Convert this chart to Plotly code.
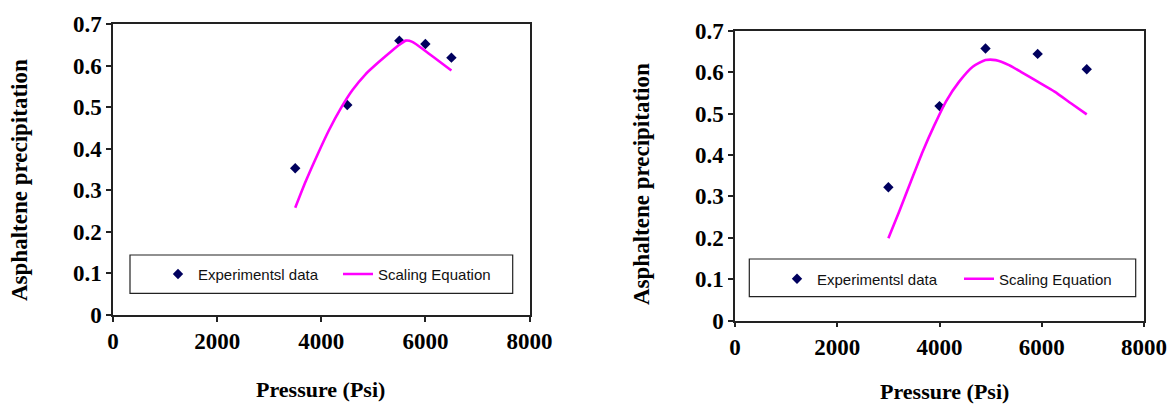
import plotly.graph_objects as go

# ---- data: left panel ----
exp1_p = [3500, 4500, 5500, 6000, 6500]
exp1_a = [0.353, 0.505, 0.660, 0.652, 0.619]
fit1_p = [3500, 3700, 3925, 4150, 4375, 4600, 4850, 5110, 5370, 5500, 5625, 5750, 6000, 6500]
fit1_a = [0.258, 0.321, 0.385, 0.445, 0.497, 0.541, 0.579, 0.609, 0.637, 0.650, 0.660, 0.657, 0.635, 0.588]

# ---- data: right panel ----
exp2_p = [3000, 4000, 4900, 5920, 6880]
exp2_a = [0.322, 0.518, 0.657, 0.644, 0.607]
fit2_p = [3000, 3210, 3440, 3670, 3900, 4125, 4385, 4650, 4900, 5100, 5360, 5600, 5920, 6250, 6570, 6880]
fit2_a = [0.199, 0.263, 0.336, 0.408, 0.472, 0.529, 0.577, 0.613, 0.629, 0.629, 0.617, 0.600, 0.577, 0.553, 0.525, 0.498]

x_ticks = [0, 2000, 4000, 6000, 8000]
y_ticks = [0, 0.1, 0.2, 0.3, 0.4, 0.5, 0.6, 0.7]
y_ticktext = ["0", "0.1", "0.2", "0.3", "0.4", "0.5", "0.6", "0.7"]
x_title = "Pressure (Psi)"
y_title = "Asphaltene precipitation"

W, H = 1175, 406
def px(x): return x / W
def py(y): return 1 - y / H

MARKER_COLOR = "#00005e"
LINE_COLOR = "#ff00ff"
LEG_FONT = dict(family="Liberation Sans, Arial", size=15, color="#111")

fig = go.Figure()
fig.add_trace(go.Scatter(x=exp1_p, y=exp1_a, mode="markers", name="Experimentsl data",
                         marker=dict(symbol="diamond", size=8, color=MARKER_COLOR),
                         xaxis="x", yaxis="y", legend="legend"))
fig.add_trace(go.Scatter(x=fit1_p, y=fit1_a, mode="lines", name="Scaling Equation",
                         line=dict(color=LINE_COLOR, width=2.6, shape="spline", smoothing=0.6),
                         xaxis="x", yaxis="y", legend="legend2"))
fig.add_trace(go.Scatter(x=exp2_p, y=exp2_a, mode="markers", name="Experimentsl data",
                         marker=dict(symbol="diamond", size=8, color=MARKER_COLOR),
                         xaxis="x2", yaxis="y2", legend="legend3"))
fig.add_trace(go.Scatter(x=fit2_p, y=fit2_a, mode="lines", name="Scaling Equation",
                         line=dict(color=LINE_COLOR, width=2.6, shape="spline", smoothing=0.6),
                         xaxis="x2", yaxis="y2", legend="legend4"))

tick_font = dict(family="Liberation Serif, Times New Roman", size=23, color="black", weight="bold")

def xax(domain, anchor):
    return dict(domain=domain, anchor=anchor, range=[0, 8000], tickvals=x_ticks,
                showgrid=False, zeroline=False, showline=True, linecolor="#222", linewidth=1.5,
                mirror=True, ticks="outside", ticklen=5, tickwidth=1.5, tickcolor="#222",
                tickfont=tick_font, automargin=False)

def yax(domain, anchor):
    return dict(domain=domain, anchor=anchor, range=[0, 0.7], tickvals=y_ticks,
                ticktext=y_ticktext,
                showgrid=False, zeroline=False, showline=True, linecolor="#222", linewidth=1.5,
                mirror=True, ticks="outside", ticklen=5, tickwidth=1.5, tickcolor="#222",
                tickfont=tick_font, automargin=False)

def leg(xp, yp):
    return dict(x=px(xp), y=py(yp), xanchor="left", yanchor="middle", bgcolor="rgba(0,0,0,0)",
                borderwidth=0, font=LEG_FONT, orientation="h", visible=True)

def title_ann(text, xp, yp, angle=0):
    return dict(text=text, x=px(xp), y=py(yp), xref="paper", yref="paper", showarrow=False,
                xanchor="center", yanchor="middle", textangle=angle,
                font=dict(family="Liberation Serif, Times New Roman", size=23 if angle else 22,
                          color="black", weight="bold"))

fig.update_layout(
    width=W, height=H, margin=dict(l=0, r=0, t=0, b=0, autoexpand=False),
    paper_bgcolor="white", plot_bgcolor="white", showlegend=True,
    xaxis=xax([px(113), px(529.5)], "y"),
    yaxis=yax([py(315), py(24)], "x"),
    xaxis2=xax([px(735), px(1144)], "y2"),
    yaxis2=yax([py(320.7), py(30.7)], "x2"),
    legend=leg(158, 274.3),
    legend2=leg(338, 274.3),
    legend3=leg(777, 279),
    legend4=leg(959, 279),
    annotations=[
        title_ann(x_title, 320, 389),
        title_ann(x_title, 944, 391),
        title_ann(y_title, 19, 180, -90),
        title_ann(y_title, 641, 184, -90),
    ],
    shapes=[
        dict(type="rect", xref="paper", yref="paper", x0=px(130), x1=px(512.7), y0=py(293.3), y1=py(255),
             line=dict(color="#222", width=1.2), fillcolor="rgba(0,0,0,0)"),
        dict(type="rect", xref="paper", yref="paper", x0=px(749.3), x1=px(1135.7), y0=py(296.7), y1=py(259),
             line=dict(color="#222", width=1.2), fillcolor="rgba(0,0,0,0)"),
    ],
)

fig.write_html("out.html", config={"displayModeBar": False},
               post_script="document.body.style.margin='0';")
